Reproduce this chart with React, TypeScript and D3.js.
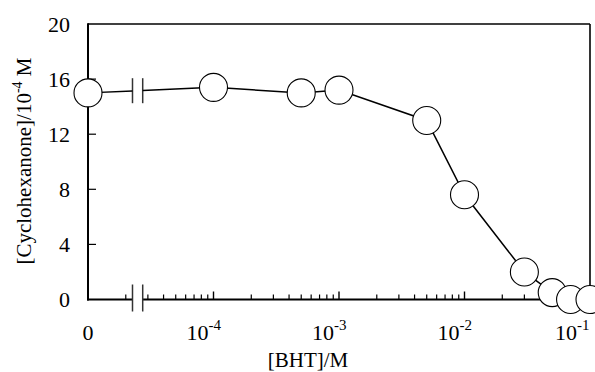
import React from "react";
import * as d3 from "d3";

// BHT concentration (M) and remaining cyclohexanone (10^-4 M)
const bhtConc = [0, 1e-4, 5e-4, 1e-3, 5e-3, 1e-2, 3e-2, 5e-2, 7e-2, 1e-1];
const cyclohexanone = [15.0, 15.4, 15.0, 15.2, 13.0, 7.6, 2.0, 0.5, 0.0, 0.0];

const yTicks = [0, 4, 8, 12, 16, 20];
const decadeTicks = [1e-4, 1e-3, 1e-2, 1e-1];
const decadeExponents = ["-4", "-3", "-2", "-1"];
const minorDecades = [1e-5, 1e-4, 1e-3, 1e-2];

const W = 595;
const H = 372;
const left = 88;
const right = 590;
const top = 24;
const bottom = 299.5;
const breakA = 132.5;
const breakB = 142.7;
const FONT = "Liberation Serif, Times New Roman, Times, serif";

export default function App() {
  const xLog = d3.scaleLog().domain([1e-4, 1e-1]).range([213.5, right]);
  const xPos = (v: number) => (v === 0 ? left : xLog(v));
  const y = d3.scaleLinear().domain([0, 20]).range([bottom, top]);

  const pts: [number, number][] = bhtConc.map((c, i) => [xPos(c), y(cyclohexanone[i])]);

  // the first segment crosses the axis break; interpolate where it is cut
  const [x0, y0] = pts[0];
  const [x1, y1] = pts[1];
  const yAt = (px: number) => y0 + ((px - x0) / (x1 - x0)) * (y1 - y0);
  const line = d3.line();
  const seg1 = line([pts[0], [breakA, yAt(breakA)]]);
  const seg2 = line([[breakB, yAt(breakB)], ...pts.slice(1)]);

  const minor: number[] = [];
  minorDecades.forEach((d) => {
    for (let k = 2; k <= 9; k++) minor.push(d * k);
  });

  const yBreakMid = (yAt(breakA) + yAt(breakB)) / 2;
  const txt = { fontFamily: FONT };

  return (
    <svg
      width={W}
      height={H}
      style={{ position: "absolute", left: 0, top: 0, background: "#fff" }}
    >
      <rect x={0} y={0} width={W} height={H} fill="#fff" />

      {/* frame */}
      <line x1={left} y1={top} x2={right} y2={top} stroke="#000" strokeWidth={1.6} />
      <line x1={right} y1={top} x2={right} y2={bottom} stroke="#000" strokeWidth={1.6} />
      <line x1={left} y1={top - 0.8} x2={left} y2={bottom + 1} stroke="#000" strokeWidth={2} />
      <line x1={left - 1} y1={bottom} x2={breakA} y2={bottom} stroke="#000" strokeWidth={2.2} />
      <line x1={breakB} y1={bottom} x2={right} y2={bottom} stroke="#000" strokeWidth={2.2} />

      {/* y ticks */}
      {yTicks.map((t) => (
        <g key={`yt${t}`}>
          {t > 0 && t < 20 && (
            <line x1={left} y1={y(t)} x2={left + 8} y2={y(t)} stroke="#000" strokeWidth={1.2} />
          )}
          <text
            x={70}
            y={y(t)}
            textAnchor="end"
            dominantBaseline="central"
            fontSize={22}
            style={txt}
          >
            {t}
          </text>
        </g>
      ))}

      {/* x ticks */}
      {minor.map((m, i) => (
        <line
          key={`mn${i}`}
          x1={xLog(m)}
          y1={bottom}
          x2={xLog(m)}
          y2={bottom - 5}
          stroke="#000"
          strokeWidth={1.2}
        />
      ))}
      {decadeTicks.map((d) => (
        <line
          key={`mj${d}`}
          x1={xLog(d)}
          y1={bottom}
          x2={xLog(d)}
          y2={bottom - 8}
          stroke="#000"
          strokeWidth={1.4}
        />
      ))}

      {/* axis break marks */}
      {[breakA, breakB].map((bx) => (
        <g key={`br${bx}`}>
          <line x1={bx} y1={bottom - 15} x2={bx} y2={bottom + 12} stroke="#333" strokeWidth={1.5} />
          <line
            x1={bx}
            y1={yBreakMid - 12.5}
            x2={bx}
            y2={yBreakMid + 12.5}
            stroke="#333"
            strokeWidth={1.5}
          />
        </g>
      ))}

      {/* x tick labels */}
      <text x={left} y={340} textAnchor="middle" fontSize={22} style={txt}>
        0
      </text>
      {decadeTicks.map((d, i) => {
        const start = i === decadeTicks.length - 1 ? xLog(d) - 35 : xLog(d) - 27;
        return (
          <text key={`xl${d}`} x={start} y={340} fontSize={22} style={txt}>
            10
            <tspan dy={-10} fontSize={15}>
              {decadeExponents[i]}
            </tspan>
          </text>
        );
      })}

      {/* data line and markers */}
      <path d={seg1 ?? ""} fill="none" stroke="#000" strokeWidth={1.5} />
      <path d={seg2 ?? ""} fill="none" stroke="#000" strokeWidth={1.5} />
      {pts.map(([px, py], i) => (
        <circle key={`pt${i}`} cx={px} cy={py} r={14} fill="#fff" stroke="#000" strokeWidth={1.1} />
      ))}

      {/* axis titles */}
      <text
        transform="translate(31,161) rotate(-90)"
        textAnchor="middle"
        fontSize={21}
        style={txt}
      >
        [Cyclohexanone]/10
        <tspan dy={-9} fontSize={14}>
          -4
        </tspan>
        <tspan dy={9}> M</tspan>
      </text>
      <text x={308} y={367} textAnchor="middle" fontSize={21} style={txt}>
        [BHT]/M
      </text>
    </svg>
  );
}
